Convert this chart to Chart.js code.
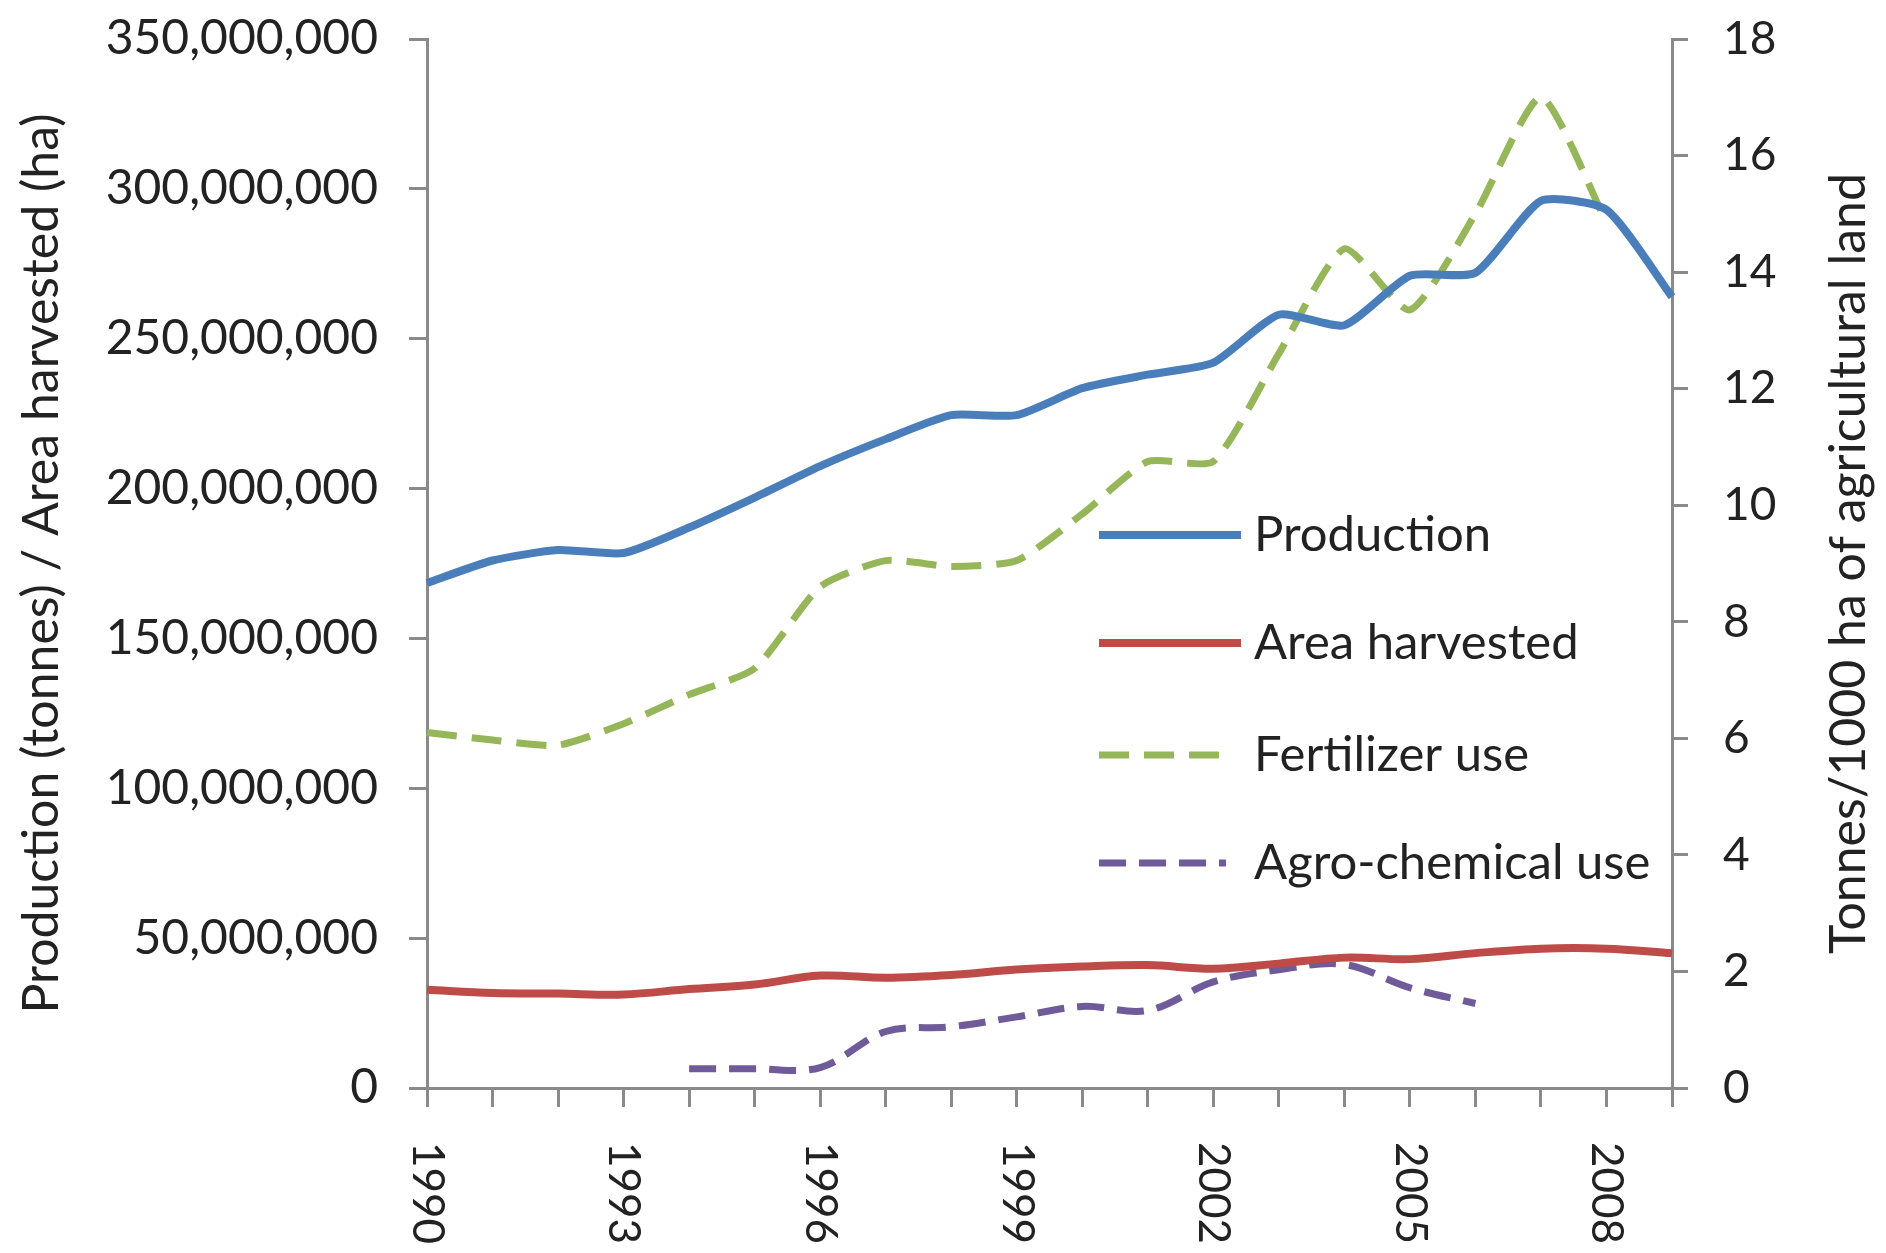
<!DOCTYPE html>
<html>
<head>
<meta charset="utf-8">
<script src="https://cdn.jsdelivr.net/npm/chart.js@4.4.1/dist/chart.umd.min.js"></script>
<style>
html,body{margin:0;padding:0;background:#ffffff;}
#wrap{width:1886px;height:1253px;position:relative;}
</style>
</head>
<body>
<div id="wrap"><canvas id="c"></canvas></div>
<script>
// ---- data ----
const years = ['1990','1991','1992','1993','1994','1995','1996','1997','1998','1999',
               '2000','2001','2002','2003','2004','2005','2006','2007','2008','2009'];
const xLabelYears = ['1990','1993','1996','1999','2002','2005','2008'];
// tonnes
const production = [168.5e6,176e6,179.5e6,178.5e6,187e6,197e6,207.5e6,216.5e6,224.5e6,224.5e6,
                    233.5e6,238e6,242e6,258e6,254.5e6,271e6,272e6,296e6,293e6,264e6];
// hectares
const areaHarvested = [32.8e6,31.7e6,31.5e6,31.2e6,33.0e6,34.5e6,37.5e6,36.8e6,37.7e6,39.5e6,
                       40.5e6,41.0e6,39.8e6,41.5e6,43.5e6,43.0e6,45.0e6,46.5e6,46.5e6,45.0e6];
// tonnes / 1000 ha of agricultural land
const fertilizerUse = [6.1,5.97,5.88,6.25,6.75,7.2,8.6,9.05,8.95,9.05,
                       9.85,10.75,10.75,12.6,14.4,13.35,15.0,17.0,14.85,null];
const agroChemicalUse = [null,null,null,null,0.33,0.33,0.35,0.97,1.05,1.22,
                         1.4,1.33,1.82,2.03,2.12,1.72,1.45,null,null,null];
const seriesNames = ['Production','Area harvested','Fertilizer use','Agro-chemical use'];
const leftTitle = 'Production (tonnes) / Area harvested (ha)';
const rightTitle = 'Tonnes/1000 ha of agricultural land';

// ---- style ----
const FONT = 'Lato';
const TXT = '#222222';
const AXIS = '#8a8a8a';

const decor = {
  id: 'decor',
  afterDraw(chart) {
    const ctx = chart.ctx;
    const xs = chart.scales.x;
    const area = chart.chartArea;
    ctx.save();
    ctx.fillStyle = TXT;
    // x labels rotated clockwise
    ctx.font = '44px ' + FONT;
    ctx.textAlign = 'left';
    ctx.textBaseline = 'middle';
    years.forEach((y, i) => {
      if (!xLabelYears.includes(y)) return;
      const px = xs.getPixelForValue(i);
      ctx.save();
      ctx.translate(px, area.bottom + 54);
      ctx.rotate(Math.PI / 2);
      ctx.fillText(y, 0, 0);
      ctx.restore();
    });
    // axis titles
    const cy = (area.top + area.bottom) / 2;
    ctx.textAlign = 'center';
    ctx.font = '50px ' + FONT;
    ctx.save(); ctx.translate(42, cy); ctx.rotate(-Math.PI / 2); ctx.fillText(leftTitle, 0, 0); ctx.restore();
    ctx.save(); ctx.translate(1849, cy); ctx.rotate(-Math.PI / 2); ctx.fillText(rightTitle, 0, 0); ctx.restore();
    // legend
    ctx.font = '49px ' + FONT;
    const ys = [535, 643, 755, 863];
    chart.data.datasets.forEach((ds, i) => {
      const y = ys[i];
      ctx.save();
      ctx.strokeStyle = ds.borderColor;
      ctx.lineWidth = ds.borderWidth;
      ctx.setLineDash(ds.borderDash || []);
      ctx.beginPath();
      ctx.moveTo(1099, y);
      ctx.lineTo(ds.borderDash ? 1226 : 1241, y);
      ctx.stroke();
      ctx.restore();
      ctx.textAlign = 'left';
      ctx.textBaseline = 'middle';
      ctx.fillText(ds.label, 1254, y);
    });
    ctx.restore();
  }
};

const ctx = document.getElementById('c');
new Chart(ctx, {
  type: 'line',
  data: {
    labels: years,
    datasets: [
      { label: seriesNames[0], data: production, yAxisID: 'y', borderColor: '#4A7EBB', borderWidth: 8, tension: 0.2, pointRadius: 0 },
      { label: seriesNames[1], data: areaHarvested, yAxisID: 'y', borderColor: '#BE4B48', borderWidth: 8, tension: 0.35, pointRadius: 0 },
      { label: seriesNames[2], data: fertilizerUse, yAxisID: 'y1', borderColor: '#96B65A', borderWidth: 7, borderDash: [30, 15], tension: 0.2, pointRadius: 0 },
      { label: seriesNames[3], data: agroChemicalUse, yAxisID: 'y1', borderColor: '#6F5B99', borderWidth: 7, borderDash: [27, 13], tension: 0.35, pointRadius: 0 }
    ]
  },
  options: {
    responsive: true,
    maintainAspectRatio: false,
    animation: false,
    layout: { padding: { top: 39, left: 0, right: 0, bottom: 0 } },
    plugins: { legend: { display: false }, tooltip: { enabled: false } },
    scales: {
      x: {
        type: 'category',
        offset: false,
        grid: { display: true, drawOnChartArea: false, drawTicks: true, tickLength: 19, color: AXIS, lineWidth: 3 },
        border: { display: true, color: AXIS, width: 3 },
        ticks: { display: false, autoSkip: false },
        afterFit: s => { s.height = 165; s.paddingLeft = 0; s.paddingRight = 0; }
      },
      y: {
        position: 'left',
        min: 0, max: 350e6,
        grid: { display: true, drawOnChartArea: false, drawTicks: true, tickLength: 18, color: AXIS, lineWidth: 3 },
        border: { display: true, color: AXIS, width: 3 },
        ticks: { stepSize: 50e6, padding: 31, color: TXT, font: { family: FONT, size: 48 },
                 callback: v => Number(v).toLocaleString('en-US') },
        afterFit: s => { s.width = 427; s.paddingTop = 0; s.paddingBottom = 0; }
      },
      y1: {
        position: 'right',
        min: 0, max: 18,
        grid: { display: true, drawOnChartArea: false, drawTicks: true, tickLength: 16, color: AXIS, lineWidth: 3 },
        border: { display: true, color: AXIS, width: 3 },
        ticks: { stepSize: 2, padding: 35, color: TXT, font: { family: FONT, size: 46 } },
        afterFit: s => { s.width = 214; s.paddingTop = 0; s.paddingBottom = 0; }
      }
    }
  },
  plugins: [decor]
});
</script>
</body>
</html>
